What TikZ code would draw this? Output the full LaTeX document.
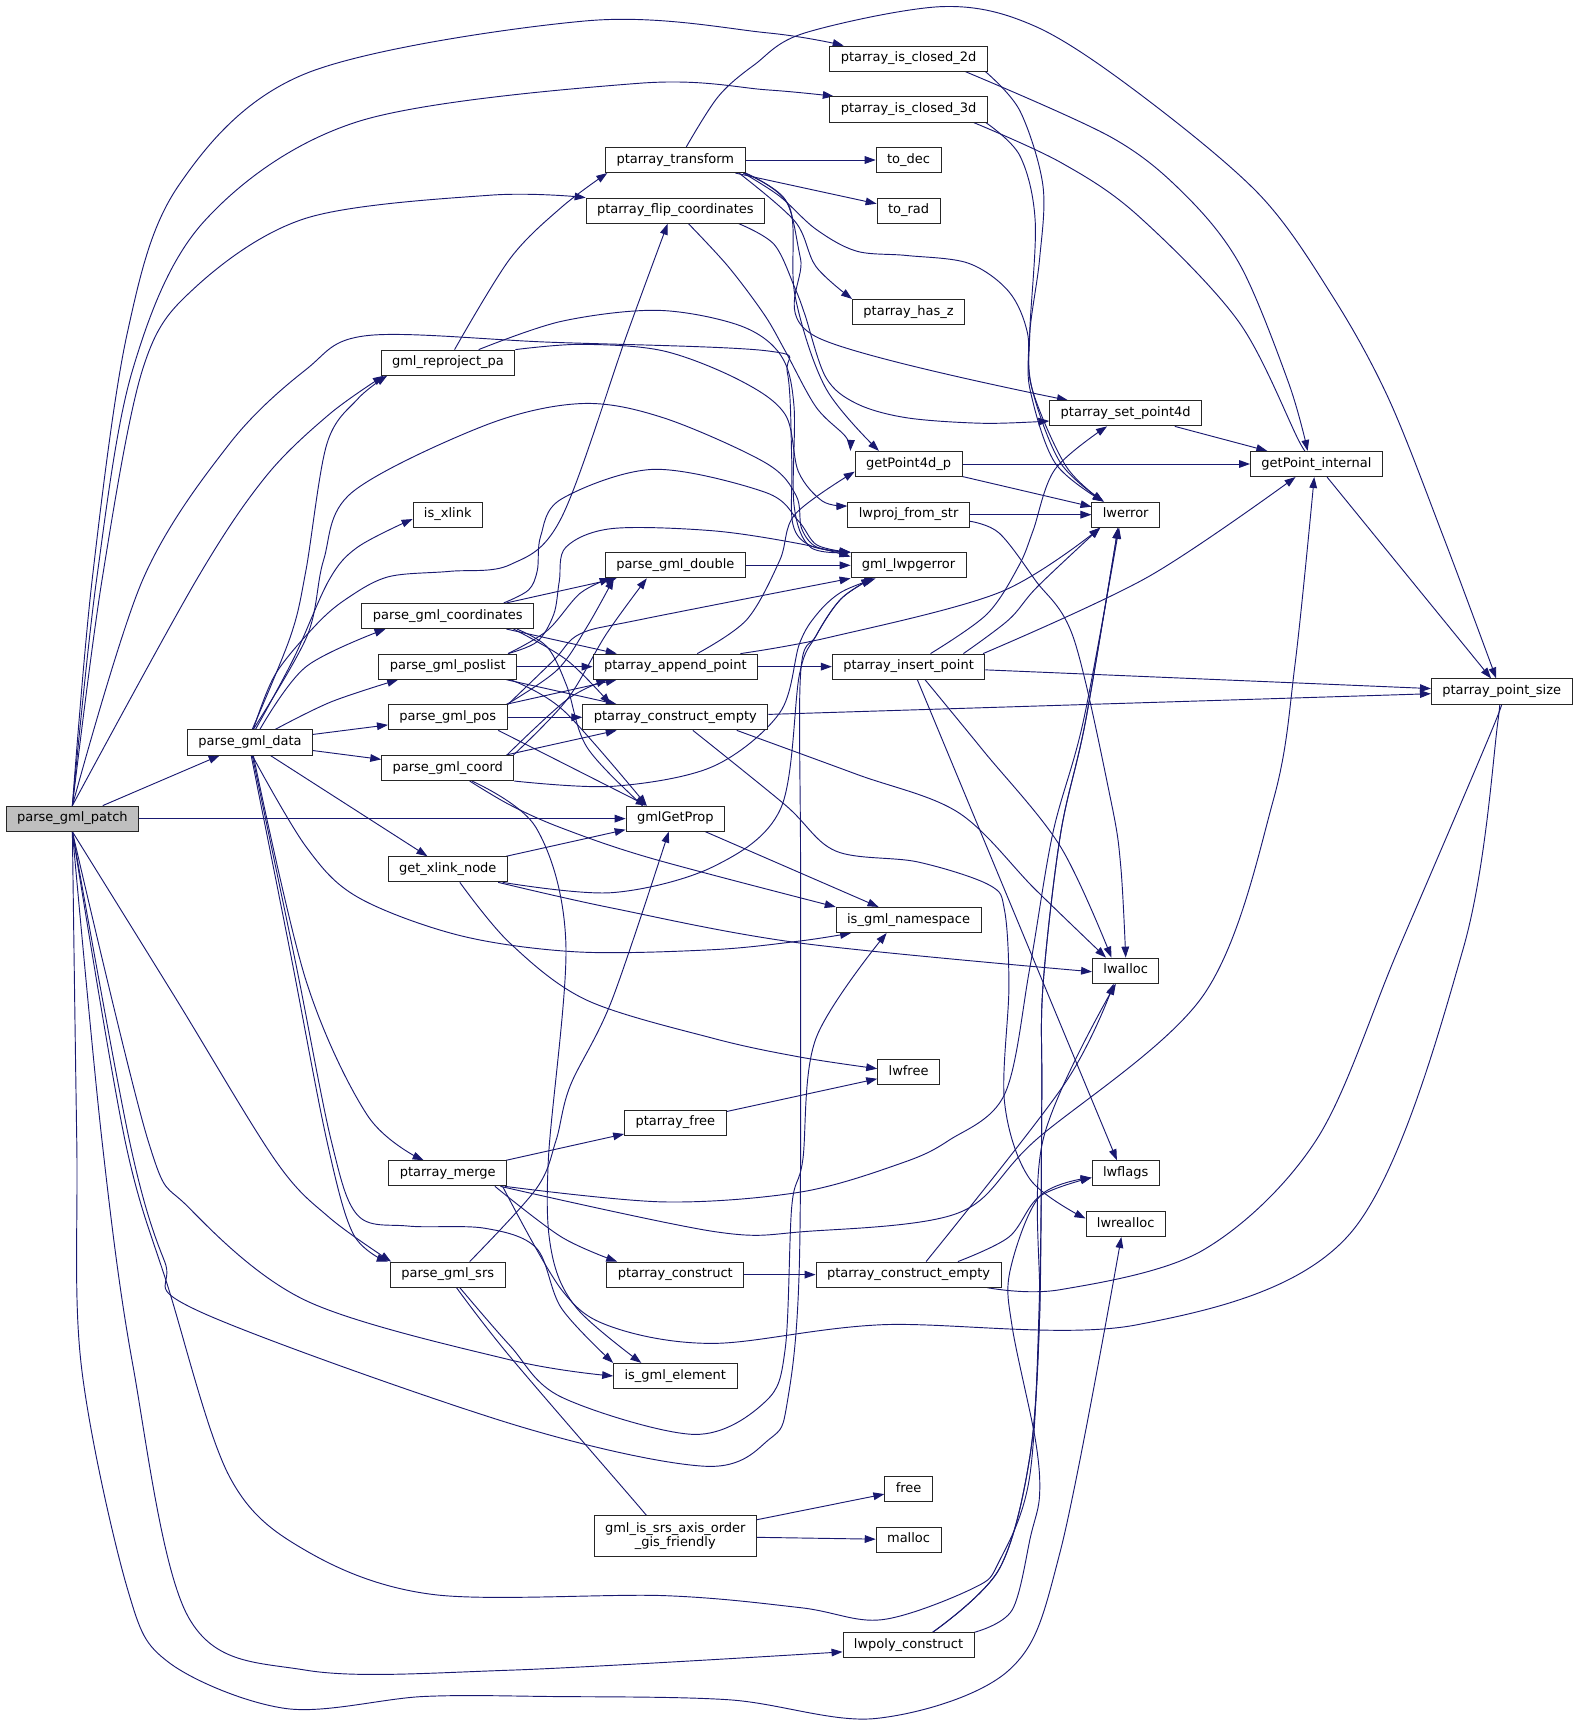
\documentclass[tikz,border=0pt]{standalone}
\usepackage{fontspec}
\setmainfont{DejaVu Sans}
\usetikzlibrary{arrows.meta}
\definecolor{edgeblue}{RGB}{25,25,112}
\definecolor{rootgrey}{RGB}{191,191,191}
\pgfdeclarelayer{edgelayer}
\pgfsetlayers{edgelayer,main}
\begin{document}
\begin{tikzpicture}[x=1pt,y=-1pt,
  base/.style={draw=black!85,line width=0.8pt,fill=white,inner xsep=10pt,inner ysep=2pt,font=\fontsize{11.85pt}{13.6pt}\selectfont},
  fn/.style={base,minimum height=23pt,text height=8.7pt,text depth=2.8pt},
  e/.style={draw=edgeblue,line width=0.85pt,-{Triangle[length=10pt,width=7pt]}},
  sm/.style={smooth,tension=0.55}]
\useasboundingbox (0,0) rectangle (1440,1573);
% nodes
\node[fn,fill=rootgrey] (P) at (66,746.5) {parse\_gml\_patch};
\node[fn] (D) at (228,677) {parse\_gml\_data};
\node[fn] (ic2) at (828.5,53.5) {ptarray\_is\_closed\_2d};
\node[fn] (ic3) at (828.5,99.7) {ptarray\_is\_closed\_3d};
\node[fn] (pt) at (615.8,145.9) {ptarray\_transform};
\node[fn] (todec) at (828.5,145.9) {to\_dec};
\node[fn] (flip) at (615.8,192.1) {ptarray\_flip\_coordinates};
\node[fn] (torad) at (828.5,192.1) {to\_rad};
\node[fn] (hasz) at (828.5,284.5) {ptarray\_has\_z};
\node[fn] (grp) at (408.5,330.7) {gml\_reproject\_pa};
\node[fn] (spd) at (1026.5,376.9) {ptarray\_set\_point4d};
\node[fn] (gp4d) at (828.5,423.1) {getPoint4d\_p};
\node[fn] (gpi) at (1200.4,423.1) {getPoint\_internal};
\node[fn] (isx) at (408.3,469.3) {is\_xlink};
\node[fn] (lps) at (828.5,469.3) {lwproj\_from\_str};
\node[fn] (lwerror) at (1026.5,469.3) {lwerror};
\node[fn] (pgd) at (615.8,515.5) {parse\_gml\_double};
\node[fn] (glw) at (828.5,515.5) {gml\_lwpgerror};
\node[fn] (pgc) at (408.3,561.7) {parse\_gml\_coordinates};
\node[fn] (ppl) at (408.3,607.9) {parse\_gml\_poslist};
\node[fn] (pap) at (615.8,607.9) {ptarray\_append\_point};
\node[fn] (pip) at (828.5,607.9) {ptarray\_insert\_point};
\node[fn] (pps) at (1369.4,630.6) {ptarray\_point\_size};
\node[fn] (pos) at (408.3,654.1) {parse\_gml\_pos};
\node[fn] (pce1) at (615.8,654.1) {ptarray\_construct\_empty};
\node[fn] (crd) at (408.3,700.3) {parse\_gml\_coord};
\node[fn] (G) at (615.8,746.5) {gmlGetProp};
\node[fn] (gxn) at (408.3,792.7) {get\_xlink\_node};
\node[fn] (ign) at (828.5,838.9) {is\_gml\_namespace};
\node[fn] (lwalloc) at (1026.5,885.1) {lwalloc};
\node[fn] (lwfree) at (828.5,977.5) {lwfree};
\node[fn] (pfree) at (615.8,1023.7) {ptarray\_free};
\node[fn] (pm) at (408.3,1069.9) {ptarray\_merge};
\node[fn] (lwflags) at (1026.5,1069.9) {lwflags};
\node[fn] (lwrealloc) at (1026.5,1116.1) {lwrealloc};
\node[fn] (srs) at (408.3,1162.3) {parse\_gml\_srs};
\node[fn] (pc) at (615.8,1162.3) {ptarray\_construct};
\node[fn] (pce2) at (828.5,1162.3) {ptarray\_construct\_empty};
\node[fn] (ige) at (615.8,1254.7) {is\_gml\_element};
\node[fn] (free) at (828.5,1358) {free};
\node[base,minimum height=37pt,align=center] (gis) at (615.8,1400.7) {gml\_is\_srs\_axis\_order\\\_gis\_friendly};
\node[fn] (malloc) at (828.5,1404) {malloc};
\node[fn] (lwpc) at (828.5,1500.3) {lwpoly\_construct};
\begin{pgfonlayer}{edgelayer}
% straight connectors
\draw[e] (P) -- (D);
\draw[e] (P) -- (G);
\draw[e] (D) -- (pos);
\draw[e] (D) -- (crd);
\draw[e] (D) -- (gxn);
\draw[e] (pt) -- (todec);
\draw[e] (pt) -- (torad);
\draw[e] (pgc) -- (pgd);
\draw[e] (pgc) -- (pap);
\draw[e] (ppl) -- (pap);
\draw[e] (ppl) -- (pce1);
\draw[e] (pos) -- (pce1);
\draw[e] (pos) -- (pap);
\draw[e] ([xshift=46pt]pos.south) -- ([xshift=-26pt]G.north);
\draw[e] (crd) -- (pce1);
\draw[e] (pgd) -- (glw);
\draw[e] (pap) -- (pip);
\draw[e] (pip) -- (pps);
\draw[e] (pce1) -- (pps);
\draw[e] (G) -- (ign);
\draw[e] (gxn) -- (G);
\draw[e] (pfree) -- (lwfree);
\draw[e] (pm) -- (pfree);
\draw[e] (pc) -- (pce2);
\draw[e] (gis) -- (free);
\draw[e] (gis) -- (malloc);
\draw[e] (gp4d) -- (gpi);
\draw[e] (gp4d) -- (lwerror);
\draw[e] (lps) -- (lwerror);
\draw[e] (spd) -- (gpi);
\draw[e] (gpi) -- (pps);
\draw[e] ([xshift=8pt]pip.south) -- ([xshift=-8pt]lwflags.north);
% parse_gml_patch, upward
\draw[e] plot[sm] coordinates {(P.north) (84,529) (116,304) (163,169) (279,67) (535,19) (700,30) ([xshift=13pt]ic2.north west)};
\draw[e] plot[sm] coordinates {(P.north) (88,529) (121,337) (186,202) (326,111) (582,76) (700,82) ([xshift=4pt]ic3.north west)};
\draw[e] plot[sm] coordinates {(P.north) (93,529) (130,337) (177,263) (279,199) (447,178) (flip.north west)};
\draw[e] plot[sm] coordinates {(P.north) (130,529) (209,405) (279,337) (335,306) (500,312) (700,320) (718,340) (722,420) (723,478) (740,498) (glw.north west)};
\draw[e] plot[sm] coordinates {(P.north) (179,529) (242,435) (300,378) ([xshift=3pt]grp.south west)};
% parse_gml_patch, downward
\draw[e] plot[sm] coordinates {(P.south) (160,910) (251,1058) (300,1110) ([xshift=1pt]srs.north west)};
\draw[e] plot[sm] coordinates {(P.south) (135,1040) (172,1101) (279,1186) (465,1240) (ige.west)};
\draw[e] plot[sm] coordinates {(P.south) (118,1040) (150,1150) (180,1195) (465,1298) (642,1337) (702,1312) (718,1278) (729,1150) (730,800) (730,615) (744,580) (767,546) ([xshift=-33pt]glw.south)};
\draw[e] plot[sm] coordinates {(P.south) (114,1040) (154,1176) (209,1346) (279,1414) (395,1454) (605,1455) (730,1466) (804,1477) (888,1448) (911,1424) (939,1346) (948,1176) (950,1000) (951,900) (967,761) (990,657) ([xshift=-7pt]lwerror.south)};
\draw[e] plot[sm] coordinates {(P.south) (93,1040) (121,1244) (172,1475) (279,1523) (465,1523) ([yshift=-6pt]lwpc.west)};
\draw[e] plot[sm] coordinates {(P.south) (70,1040) (74,1244) (116,1448) (154,1516) (261,1558) (386,1547) (502,1547) (665,1550) (799,1567) (920,1523) (967,1414) ([xshift=-4pt]lwrealloc.south)};
% parse_gml_data
\draw[e] plot[sm] coordinates {([xshift=5pt]D.north) (268,600) (300,529) (326,499) ([yshift=-4pt]isx.west)};
\draw[e] plot[sm] coordinates {([xshift=2pt]D.north) (265,580) (279,520) (298,405) (326,364) ([xshift=6pt]grp.south west)};
\draw[e] plot[sm] coordinates {([xshift=3pt]D.north) (280,580) (295,511) (321,449) (442,388) (530,368) (605,381) (698,422) (726,452) (731,482) (745,499) (glw.north west)};
\draw[e] plot[sm] coordinates {([xshift=3pt]D.north) (251,615) (288,570) (316,546) (354,526) (410,521) (465,515) (512,472) (572,304) ([xshift=-7pt]flip.south)};
\draw[e] plot[sm] coordinates {([xshift=9pt]D.north) (279,608) ([xshift=22pt]pgc.south west)};
\draw[e] plot[sm] coordinates {([xshift=23pt]D.north) (302,640) ([xshift=18pt]ppl.south west)};
\draw[e] plot[sm] coordinates {([xshift=2pt]D.south) (279,772) (326,818) (419,853) (526,868) (650,866) (730,858) ([xshift=14pt]ign.south west)};
\draw[e] plot[sm] coordinates {([xshift=1pt]D.south) (265,870) (298,1040) (322,1125) ([xshift=-2pt]srs.north west)};
\draw[e] plot[sm] coordinates {([xshift=2pt]D.south) (270,880) (302,1040) (326,1108) (372,1118) (442,1120) (489,1138) (512,1193) (ige.north west)};
\draw[e] plot[sm] coordinates {([xshift=3pt]D.south) (279,894) (335,1017) ([xshift=-22pt]pm.north)};
% gml_reproject_pa
\draw[e] plot[sm] coordinates {([xshift=6pt]grp.north) (465,236) (512,189) ([xshift=2pt]pt.south west)};
\draw[e] plot[sm] coordinates {([xshift=28pt]grp.north) (512,293) (600,283) (675,297) (712,324) (724,370) (724,460) (739,499) (glw.north west)};
\draw[e] plot[sm] coordinates {(grp.north east) (530,314) (605,320) (675,347) (716,378) (728,430) (750,457) ([yshift=-4pt]lps.north west)};
% ptarray_transform
\draw[e] plot[sm] coordinates {([xshift=10pt]pt.north) (655,88) (688,59) (734,30) (860,6) (944,24) (1037,84) (1148,177) (1215,270) (1266,363) (1316,489) ([xshift=-5pt]pps.north)};
\draw[e] plot[sm] coordinates {([xshift=-6pt]pt.south east) (725,202) (744,243) (hasz.north west)};
\draw[e] plot[sm] coordinates {([xshift=-2pt]pt.south east) (711,179) (744,209) (781,229) (827,233) (883,240) (920,266) (937,304) (939,354) (962,422) ([xshift=-20pt]lwerror.north)};
\draw[e] plot[sm] coordinates {([xshift=-1pt]pt.south east) (716,182) (730,236) (744,307) ([xshift=17pt]spd.north west)};
\draw[e] plot[sm] coordinates {(pt.south east) (720,189) (725,270) (753,354) ([xshift=-27pt]gp4d.north)};
% ptarray_flip_coordinates
\draw[e] plot[sm] coordinates {([xshift=12pt]flip.south) (664,243) (697,287) (716,320) (744,371) (771,398) ([xshift=-4pt]gp4d.north west)};
\draw[e] plot[sm] coordinates {([xshift=58pt]flip.south) (706,223) (725,263) (734,287) (753,344) (781,368) (827,381) (897,386) ([yshift=-7pt]spd.west)};
% closed 2d / 3d
\draw[e] plot[sm] coordinates {([xshift=52pt]ic2.south) (1013,125) (1080,177) (1131,242) (1175,349) ([xshift=-8pt]gpi.north)};
\draw[e] plot[sm] coordinates {([xshift=-2pt]ic2.south east) (930,101) (951,169) (948,236) (939,304) (941,354) (967,422) ([xshift=-20pt]lwerror.north)};
\draw[e] plot[sm] coordinates {([xshift=59pt]ic3.south) (967,148) (1037,196) (1130,294) (1186,405) ([xshift=-5pt]gpi.north)};
\draw[e] plot[sm] coordinates {([xshift=-2pt]ic3.south east) (930,142) (944,202) (939,304) (941,354) (972,425) ([xshift=-20pt]lwerror.north)};
% parse_gml_coordinates
\draw[e] plot[sm] coordinates {([xshift=60pt]pgc.south) (517,602) ([xshift=-59pt]pce1.north)};
\draw[e] plot[sm] coordinates {([xshift=63pt]pgc.south) (499,590) (517,626) (535,681) (584,733) ([xshift=-28pt]G.north)};
\draw[e] plot[sm] coordinates {([xshift=51pt]pgc.north) (482,538) (490,520) (493,489) (512,455) (596,428) (698,449) (728,475) (745,497) (glw.north west)};
% parse_gml_poslist
\draw[e] plot[sm] coordinates {([xshift=55pt]ppl.north) (499,575) (529,541) ([xshift=-59pt]pgd.south)};
\draw[e] plot[sm] coordinates {([xshift=57pt]ppl.south) (514,648) ([xshift=-26pt]G.north)};
\draw[e] plot[sm] coordinates {([xshift=55pt]ppl.north) (490,585) (505,560) (510,530) (516,499) (558,482) (650,484) (730,496) ([yshift=-4pt]glw.north west)};
% parse_gml_pos
\draw[e] plot[sm] coordinates {([xshift=54pt]pos.north) (508,611) (535,572) ([xshift=-56pt]pgd.south)};
\draw[e] plot[sm] coordinates {([xshift=55pt]pos.north) (505,602) (529,578) (584,565) (glw.south west)};
% parse_gml_coord
\draw[e] plot[sm] coordinates {([xshift=54pt]crd.north) (517,638) ([xshift=-62pt]pap.south)};
\draw[e] plot[sm] coordinates {([xshift=60pt]crd.north) (517,638) (553,578) ([xshift=-26pt]pgd.south)};
\draw[e] plot[sm] coordinates {(crd.south east) (559,717) (650,699) (711,650) (729,587) (745,560) (767,540) ([xshift=-30pt]glw.south)};
\draw[e] plot[sm] coordinates {([xshift=20pt]crd.south) (465,734) (512,755) (595,783) (ign.north west)};
\draw[e] plot[sm] coordinates {([xshift=22pt]crd.south) (489,755) (516,860) (500,1058) (503,1142) (526,1193) ([xshift=-31pt]ige.north)};
% get_xlink_node
\draw[e] plot[sm] coordinates {([xshift=50pt]gxn.south) (558,814) (651,790) (712,737) (729,615) (744,580) (767,546) ([xshift=-33pt]glw.south)};
\draw[e] plot[sm] coordinates {([xshift=46pt]gxn.south) (558,828) (730,860) ([yshift=-1pt]lwalloc.west)};
\draw[e] plot[sm] coordinates {([xshift=11pt]gxn.south) (465,860) (535,912) (651,947) (730,964) ([yshift=3pt]lwfree.west)};
% ptarray_append_point / insert_point
\draw[e] plot[sm] coordinates {([xshift=-16pt]pap.north east) (757,581) (912,540) ([xshift=8pt]lwerror.south west)};
\draw[e] plot[sm] coordinates {([xshift=20pt]pap.north) (681,565) (711,511) (725,469) ([yshift=-7pt]gp4d.west)};
\draw[e] plot[sm] coordinates {([xshift=-2pt]pip.north east) (1047,526) ([xshift=-19pt]gpi.south)};
\draw[e] plot[sm] coordinates {([xshift=50pt]pip.north) (920,565) (946,535) ([xshift=8pt]lwerror.south west)};
\draw[e] plot[sm] coordinates {([xshift=20pt]pip.north) (900,560) (929,516) (942,484) (962,428) ([xshift=-17pt]spd.south)};
\draw[e] plot[sm] coordinates {([xshift=15pt]pip.south) (897,685) (967,772) ([xshift=-13pt]lwalloc.north)};
% lwproj_from_str
\draw[e] plot[sm] coordinates {([yshift=-6pt]lps.east) (911,486) (944,529) (979,582) (1013,730) (1022,790) (lwalloc.north)};
% ptarray_construct_empty
\draw[e] plot[sm] coordinates {([xshift=56pt]pce1.south) (781,706) (874,741) (944,811) ([xshift=-18pt]lwalloc.north)};
\draw[e] plot[sm] coordinates {([xshift=16pt]pce1.south) (716,734) (762,776) (837,786) (902,807) (916,830) (920,900) (916,1005) (939,1075) ([yshift=5pt]lwrealloc.west)};
% ptarray_merge
\draw[e] plot[sm] coordinates {([xshift=43pt]pm.south) (512,1128) ([xshift=-53pt]pc.north)};
\draw[e] plot[sm] coordinates {([xshift=52pt]pm.south) (605,1096) (730,1087) (821,1061) (865,1040) (916,998) (939,883) (960,760) (988,657) ([xshift=-6pt]lwerror.south)};
\draw[e] plot[sm] coordinates {([xshift=48pt]pm.south) (651,1123) (734,1123) (874,1106) (944,1040) (1097,908) (1161,730) (1181,605) ([xshift=-2pt]gpi.south)};
\draw[e] plot[sm] coordinates {([xshift=50pt]pm.south) (512,1176) (558,1210) (651,1225) (804,1208) (1037,1208) (1231,1125) (1334,866) (1366,657) ([xshift=-5pt]pps.south)};
% parse_gml_srs
\draw[e] plot[sm] coordinates {([xshift=8pt]srs.south) (465,1237) (582,1373) ([xshift=-27pt]gis.north)};
\draw[e] plot[sm] coordinates {([xshift=11pt]srs.south) (465,1227) (512,1274) (633,1308) (698,1278) (716,1230) (722,1100) (732,1058) (744,947) ([xshift=-20pt]ign.south)};
\draw[e] plot[sm] coordinates {([xshift=20pt]srs.north) (489,1084) (507,1040) (520,990) (558,912) ([xshift=-6pt]G.south)};
% second ptarray_construct_empty
\draw[e] plot[sm] coordinates {([xshift=16pt]pce2.north) (971,988) ([xshift=-11pt]lwalloc.south)};
\draw[e] plot[sm] coordinates {([xshift=45pt]pce2.north) (920,1128) (948,1091) ([yshift=-4pt]lwflags.west)};
\draw[e] plot[sm] coordinates {([xshift=-13pt]pce2.south east) (967,1176) (1097,1140) (1200,1040) (1275,866) (1364,657) ([xshift=-4pt]pps.south)};
% lwpoly_construct
\draw[e] plot[sm] coordinates {([xshift=22pt]lwpc.north) (911,1431) (939,1329) (948,1200) (951,1040) ([xshift=-9pt]lwalloc.south)};
\draw[e] plot[sm] coordinates {([xshift=22pt]lwpc.north) (911,1431) (939,1329) (948,1200) (950,1000) (951,900) (967,761) (990,657) ([xshift=-7pt]lwerror.south)};
\draw[e] plot[sm] coordinates {(lwpc.north east) (923,1468) (940,1400) (948,1363) (944,1312) (923,1210) (921,1159) (948,1091) ([yshift=-4pt]lwflags.west)};
\end{pgfonlayer}
\end{tikzpicture}
\end{document}
